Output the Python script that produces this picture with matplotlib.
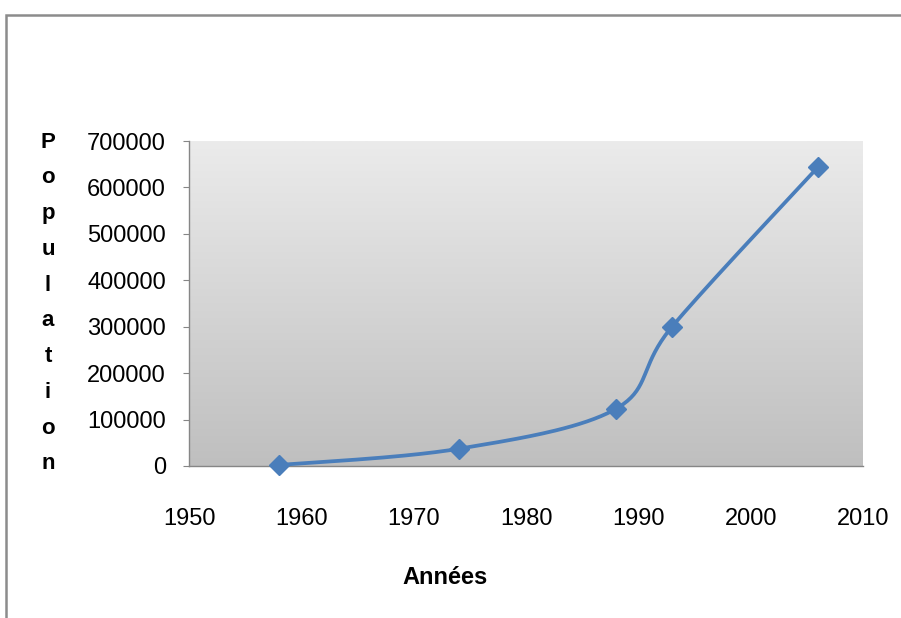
import numpy as np
import matplotlib.pyplot as plt
from matplotlib.patches import Rectangle

# population by census year
years = [1958, 1974, 1988, 1993, 2006]
population = [2000, 37000, 123000, 300000, 644000]

y_ticks = [0, 100000, 200000, 300000, 400000, 500000, 600000, 700000]
x_ticks = [1950, 1960, 1970, 1980, 1990, 2000, 2010]


def smooth_curve(xs, ys, n=40):
    # Excel-like smoothed line: cubic Bezier between points, Catmull-Rom tangents
    xs = np.asarray(xs, float)
    ys = np.asarray(ys, float)
    px = np.concatenate([[xs[0]], xs, [xs[-1]]])
    py = np.concatenate([[ys[0]], ys, [ys[-1]]])
    out_x, out_y = [], []
    t = np.linspace(0, 1, n)
    for i in range(1, len(px) - 2):
        p0 = np.array([px[i], py[i]])
        p3 = np.array([px[i + 1], py[i + 1]])
        p1 = p0 + (np.array([px[i + 1], py[i + 1]]) - np.array([px[i - 1], py[i - 1]])) / 6
        p2 = p3 - (np.array([px[i + 2], py[i + 2]]) - np.array([px[i], py[i]])) / 6
        b = ((1 - t) ** 3)[:, None] * p0 + (3 * (1 - t) ** 2 * t)[:, None] * p1 \
            + (3 * (1 - t) * t ** 2)[:, None] * p2 + (t ** 3)[:, None] * p3
        out_x.extend(b[:, 0])
        out_y.extend(b[:, 1])
    return out_x, out_y


plt.rcParams['font.family'] = ['Liberation Sans', 'DejaVu Sans']

fig = plt.figure(figsize=(9.01, 6.18), dpi=100)
ax = fig.add_axes([0.2098, 0.2460, 0.7480, 0.5258])

# chart border (top and left visible)
fig.patches.append(Rectangle((6 / 901, -0.1), 1.2, 1 - 15 / 618 + 0.1, transform=fig.transFigure,
                             fill=False, edgecolor='#8c8c8c', linewidth=1.8))

# gradient plot area
grad = np.linspace(0, 1, 256).reshape(-1, 1)
ax.imshow(grad, extent=[1950, 2010, 0, 700000], aspect='auto', origin='upper',
          cmap=plt.matplotlib.colors.LinearSegmentedColormap.from_list('g', ['#ebebeb', '#bfbfbf']),
          zorder=0)

sx, sy = smooth_curve(years, population)
ax.plot(sx, sy, color='#4a7ebb', linewidth=2.7, solid_capstyle='round', zorder=3)
ax.plot(years, population, linestyle='none', marker='D', markersize=10,
        color='#4a7ebb', zorder=4, clip_on=False)

ax.set_xlim(1950, 2010)
ax.set_ylim(0, 700000)
ax.set_xticks(x_ticks)
ax.set_yticks(y_ticks)
ax.set_xticklabels([str(v) for v in x_ticks])
ax.set_yticklabels([str(v) for v in y_ticks])

for s in ['top', 'right']:
    ax.spines[s].set_visible(False)
for s in ['left', 'bottom']:
    ax.spines[s].set_color('#868686')
    ax.spines[s].set_linewidth(1.0)

ax.tick_params(axis='y', direction='out', length=4.5, color='#868686', pad=12,
               labelsize=17, labelcolor='black')
ax.tick_params(axis='x', length=0, pad=30, labelsize=17, labelcolor='black')

fig.text(445 / 901, 1 - 578 / 618, 'Années', ha='center', va='center',
         fontsize=17, fontweight='bold')
fig.text(48 / 901, 1 - 303 / 618, '\n'.join('Population'), ha='center', va='center',
         fontsize=16, fontweight='bold', linespacing=1.92)

fig.savefig('out.png', dpi=100)
